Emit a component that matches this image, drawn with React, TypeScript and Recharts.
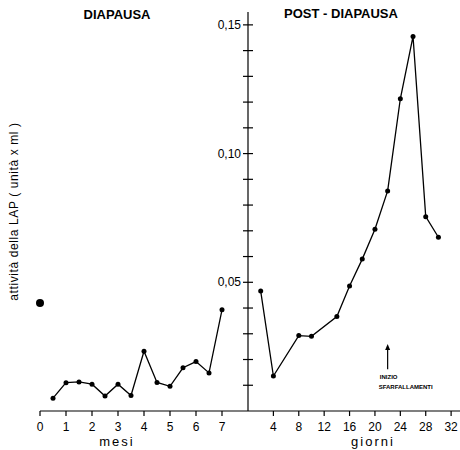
import { ComposedChart, Line, XAxis, YAxis, ReferenceLine } from 'recharts';

// diapausa: months
const monthX = [0.5, 1, 1.5, 2, 2.5, 3, 3.5, 4, 4.5, 5, 5.5, 6, 6.5, 7];
const monthLap = [0.005, 0.011, 0.0113, 0.0104, 0.0058, 0.0104, 0.006, 0.0232, 0.0111, 0.0096, 0.0168, 0.0192, 0.0148, 0.0393];
const startMonth = [0];
const startLap = [0.042];

// post-diapausa: days
const dayX = [2, 4, 8, 10, 14, 16, 18, 20, 22, 24, 26, 28, 30];
const dayLap = [0.0466, 0.0136, 0.0293, 0.029, 0.0367, 0.0486, 0.059, 0.0706, 0.0855, 0.1213, 0.1455, 0.0755, 0.0675];

const monthTicks = [0, 1, 2, 3, 4, 5, 6, 7];
const dayTicks = [4, 8, 12, 16, 20, 24, 28, 32];
const lapTicks = [0.01, 0.02, 0.03, 0.04, 0.05, 0.06, 0.07, 0.08, 0.09, 0.1, 0.11, 0.12, 0.13, 0.14, 0.15];

// "inizio sfarfallamenti" marker
const eclosionDay = 22;
const arrowFrom = 0.0162;
const arrowTo = 0.026;

const ink = '#000';
const font = '"Liberation Sans", Arial, sans-serif';
const lapDomain: [number, number] = [0, 0.155];

const diapausa = monthX.map((m, i) => ({ m, v: monthLap[i] }));
const start = startMonth.map((m, i) => ({ m, v: startLap[i] }));
const postDiapausa = dayX.map((d, i) => ({ d, v: dayLap[i] }));

function LapTick({ x, y, payload }: any) {
  const v = payload.value as number;
  const labelled = Math.round(v * 100) % 5 === 0;
  return (
    <g>
      <line x1={x - 5} x2={x + 5} y1={y} y2={y} stroke={ink} strokeWidth={1.2} />
      {labelled && (
        <text x={x - 7} y={y} dy="0.35em" textAnchor="end" fontSize={12} fill={ink} fontFamily={font}>
          {v.toFixed(2).replace('.', ',')}
        </text>
      )}
    </g>
  );
}

const yLabel = (props: any) => {
  const vb = props.viewBox;
  const cx = vb.x + 14;
  const cy = vb.y + vb.height / 2;
  return (
    <text x={cx} y={cy} transform={`rotate(-90 ${cx} ${cy})`} textAnchor="middle" dominantBaseline="central"
      fontSize={12} letterSpacing={0.6} fill={ink} fontFamily={font}>
      attività della LAP ( unità x ml )
    </text>
  );
};

const axisName = (text: string, shift: number) => (props: any) => {
  const vb = props.viewBox;
  return (
    <text x={vb.x + shift} y={vb.y + 35} textAnchor="middle" fontSize={13} letterSpacing={2} fill={ink} fontFamily={font}>
      {text}
    </text>
  );
};

function ArrowShape(p: any) {
  const { x1, y1, x2, y2 } = p;
  return (
    <g>
      <line x1={x1} y1={y1} x2={x2} y2={y2 + 5} stroke={ink} strokeWidth={1.2} />
      <polygon points={`${x2},${y2} ${x2 - 2.5},${y2 + 6} ${x2 + 2.5},${y2 + 6}`} fill={ink} />
      <text x={x1 + 1} y={y1 + 10} textAnchor="middle" fontSize={6} fontWeight="bold" fill={ink} fontFamily={font}>
        INIZIO
      </text>
      <text x={x1 - 9} y={y1 + 20} textAnchor="start" fontSize={6} fontWeight="bold" fill={ink} fontFamily={font}>
        SFARFALLAMENTI
      </text>
    </g>
  );
}

const dotStyle = { r: 2.5, fill: ink, stroke: ink, strokeWidth: 0 };

export default function App() {
  return (
    <div style={{ position: 'absolute', left: 0, top: 0, width: 460, height: 450, background: '#fff', fontFamily: font, overflow: 'hidden' }}>
      <div style={{ position: 'absolute', left: 0, top: 7, width: 234, textAlign: 'center', fontSize: 13, fontWeight: 'bold', color: ink, lineHeight: '15px' }}>
        DIAPAUSA
      </div>
      <div style={{ position: 'absolute', left: 241, top: 6, width: 200, textAlign: 'center', fontSize: 13, fontWeight: 'bold', color: ink, lineHeight: '15px' }}>
        POST - DIAPAUSA
      </div>

      {/* left panel: months */}
      <div style={{ position: 'absolute', left: 0, top: 0 }}>
        <ComposedChart width={248} height={450} margin={{ top: 12, right: 0, bottom: 0, left: 0 }}>
          <XAxis
            type="number"
            dataKey="m"
            domain={[0, 8]}
            ticks={monthTicks}
            interval={0}
            height={39}
            tickSize={5}
            tickMargin={6}
            tick={{ fontSize: 12, fill: ink, fontFamily: font }}
            stroke={ink}
            strokeWidth={1.2}
            label={axisName('mesi', 77)}
          />
          <YAxis
            type="number"
            domain={lapDomain}
            width={40}
            tick={false}
            tickLine={false}
            axisLine={false}
            label={yLabel}
          />
          <Line data={diapausa} dataKey="v" stroke={ink} strokeWidth={1.3} dot={dotStyle} activeDot={false} isAnimationActive={false} />
          <Line data={start} dataKey="v" stroke="none" dot={{ r: 4, fill: ink, stroke: ink, strokeWidth: 0 }} activeDot={false} isAnimationActive={false} />
        </ComposedChart>
      </div>

      {/* right panel: days */}
      <div style={{ position: 'absolute', left: 208, top: 0 }}>
        <ComposedChart width={252} height={450} margin={{ top: 12, right: 0, bottom: 0, left: 0 }}>
          <XAxis
            type="number"
            dataKey="d"
            domain={[0, 33.4]}
            allowDataOverflow
            ticks={dayTicks}
            interval={0}
            height={39}
            tickSize={5}
            tickMargin={6}
            tick={{ fontSize: 12, fill: ink, fontFamily: font }}
            stroke={ink}
            strokeWidth={1.2}
            label={axisName('giorni', 125)}
          />
          <YAxis
            type="number"
            domain={lapDomain}
            ticks={lapTicks}
            interval={0}
            width={40}
            tickSize={0}
            tickMargin={0}
            tickLine={false}
            tick={<LapTick />}
            stroke={ink}
            strokeWidth={1.2}
          />
          <ReferenceLine
            segment={[{ x: eclosionDay, y: arrowFrom }, { x: eclosionDay, y: arrowTo }]}
            shape={ArrowShape}
            ifOverflow="visible"
          />
          <Line data={postDiapausa} dataKey="v" stroke={ink} strokeWidth={1.3} dot={dotStyle} activeDot={false} isAnimationActive={false} />
        </ComposedChart>
      </div>
    </div>
  );
}
